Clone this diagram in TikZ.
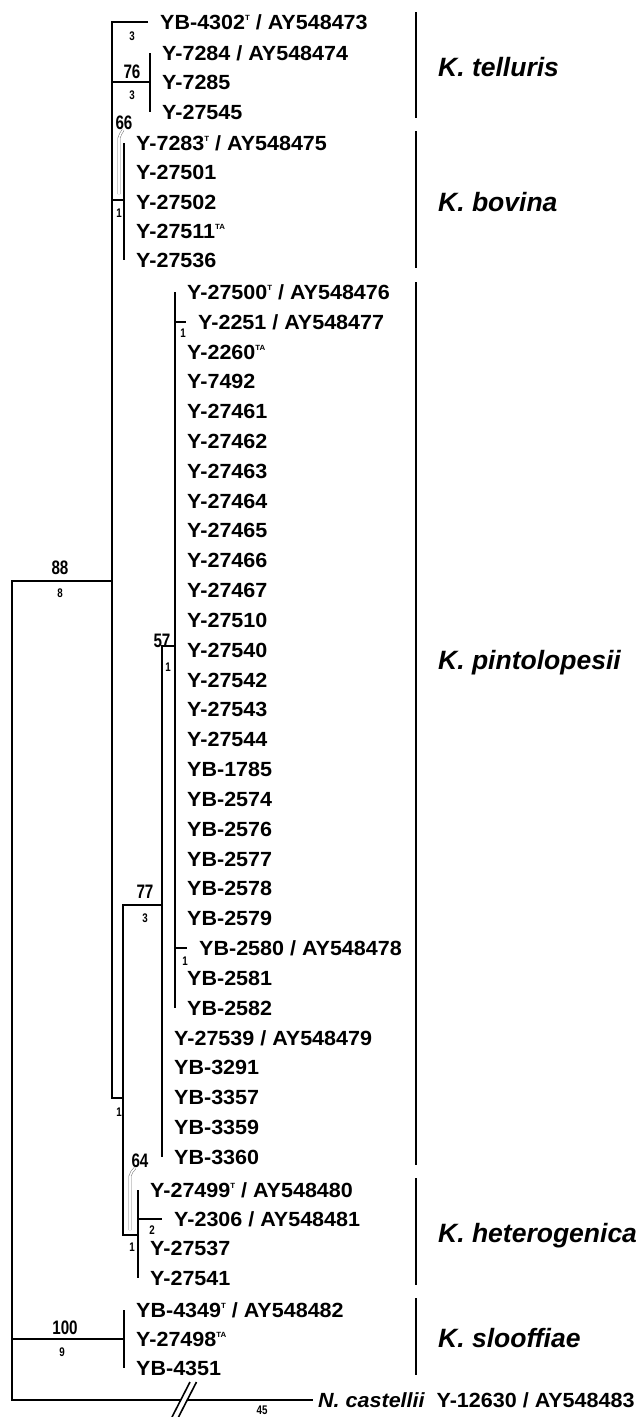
\documentclass[tikz,border=0pt]{standalone}
\usepackage{fontspec}
\setmainfont{Liberation Sans}
\newfontfamily\leaffont[FakeStretch=1.05]{Liberation Sans}
\newfontfamily\bsfont[FakeStretch=0.78]{Liberation Sans}
\newcommand{\tsup}[1]{\raisebox{9pt}{\fontsize{7.5}{7.5}\selectfont #1}}

\begin{document}
\begin{tikzpicture}[x=1pt, y=-1pt,
    branch/.style={line width=2.3pt},
    bar/.style={line width=2.5pt},
    leaf/.style={anchor=west, inner xsep=12pt, inner ysep=0pt, text height=14.7pt, text depth=0pt,
      font=\leaffont\fontsize{20.5}{24}\selectfont\bfseries},
    clade/.style={anchor=west, inner sep=0pt, text height=18.6pt, text depth=0pt,
      font=\fontsize{26.5}{30}\selectfont\bfseries\itshape},
    bsbig/.style={inner sep=0pt, font=\bsfont\fontsize{19.5}{21}\selectfont\bfseries},
    bssmall/.style={inner sep=0pt, font=\bsfont\fontsize{12.5}{14}\selectfont\bfseries},
    leader/.style={draw=black!55, line width=0.5pt, double=white, double distance=1.6pt}]
  \useasboundingbox (0,0) rectangle (639,1417);

  % inner nodes
  \coordinate (nR) at (12,581);
  \coordinate (nA) at (112,581);
  \coordinate (nTel) at (150,82);
  \coordinate (nBov) at (124,200);
  \coordinate (nB) at (123,1098);
  \coordinate (nC) at (162,905);
  \coordinate (nPin) at (175,646);
  \coordinate (nHet) at (138,1235);
  \coordinate (nSlo) at (124,1339);
  \coordinate (brk) at (184.5,1400);

  % K. telluris
  \node[leaf] (lT1) at (148,22) {YB-4302\tsup{T} / AY548473};
  \node[leaf] (lT2) at (150,53) {Y-7284 / AY548474};
  \node[leaf] (lT3) at (150,82) {Y-7285};
  \node[leaf] (lT4) at (150,112) {Y-27545};

  % K. bovina
  \node[leaf] (lB1) at (124,143) {Y-7283\tsup{T} / AY548475};
  \node[leaf] (lB2) at (124,172) {Y-27501};
  \node[leaf] (lB3) at (124,202) {Y-27502};
  \node[leaf] (lB4) at (124,231) {Y-27511\tsup{TA}};
  \node[leaf] (lB5) at (124,260) {Y-27536};

  % K. pintolopesii
  \node[leaf] (lP0) at (175,292) {Y-27500\tsup{T} / AY548476};
  \node[leaf] (lP1) at (186,321.8) {Y-2251 / AY548477};
  \foreach \i/\txt in {2/Y-2260\tsup{TA}, 3/Y-7492, 4/Y-27461, 5/Y-27462, 6/Y-27463,
      7/Y-27464, 8/Y-27465, 9/Y-27466, 10/Y-27467, 11/Y-27510, 12/Y-27540,
      13/Y-27542, 14/Y-27543, 15/Y-27544, 16/YB-1785, 17/YB-2574, 18/YB-2576,
      19/YB-2577, 20/YB-2578, 21/YB-2579, 23/YB-2581, 24/YB-2582}
    \node[leaf] (lP\i) at (175,{292+29.83*\i}) {\txt};
  \node[leaf] (lP22) at (187,948.3) {YB-2580 / AY548478};
  \node[leaf] (lP25) at (162,1037.8) {Y-27539 / AY548479};
  \foreach \i/\txt in {26/YB-3291, 27/YB-3357, 28/YB-3359, 29/YB-3360}
    \node[leaf] (lP\i) at (162,{292+29.83*\i}) {\txt};

  % K. heterogenica
  \node[leaf] (lH1) at (138,1190) {Y-27499\tsup{T} / AY548480};
  \node[leaf] (lH2) at (162,1219) {Y-2306 / AY548481};
  \node[leaf] (lH3) at (138,1248) {Y-27537};
  \node[leaf] (lH4) at (138,1278) {Y-27541};

  % K. slooffiae and outgroup
  \node[leaf] (lS1) at (124,1310) {YB-4349\tsup{T} / AY548482};
  \node[leaf] (lS2) at (124,1339) {Y-27498\tsup{TA}};
  \node[leaf] (lS3) at (124,1368) {YB-4351};
  \node[leaf, inner xsep=5pt] (lNca) at (313,1400) {\itshape N. castellii\upshape\ \ Y-12630 / AY548483};

  % branches
  \draw[branch] (nA) -- (nR) |- (lNca.west);
  \draw[branch] (nR |- nSlo) -- (nSlo);
  \draw[branch] (nSlo |- lS1.west) -- (nSlo |- lS3.west);
  \draw[branch] (lT1.west) -| (nA |- nB) -- (nB);
  \draw[branch] (nA |- nTel) -- (nTel);
  \draw[branch] (nTel |- lT2.west) -- (nTel |- lT4.west);
  \draw[branch] (nA |- nBov) -- (nBov);
  \draw[branch] (nBov |- lB1.west) -- (nBov |- lB5.west);
  \draw[branch] (nC) -| (nB |- nHet) -- (nHet);
  \draw[branch] (nPin) -| (nC |- lP29.west);
  \draw[branch] (nPin |- lP0.west) -- (nPin |- lP24.west);
  \draw[branch] (nPin |- lP1) -- (lP1.west);
  \draw[branch] (nPin |- lP22) -- (lP22.west);
  \draw[branch] (nHet |- lH1.west) -- (nHet |- lH4.west);
  \draw[branch] (nHet |- lH2) -- (lH2.west);

  % break on the outgroup branch
  \fill[white] (brk) ++(-3.2,-2.5) rectangle ++(6.4,5);
  \draw[line width=1.6pt] (brk) ++(-12.5,17) -- ++(18,-35);
  \draw[line width=1.6pt] (brk) ++(-6,17) -- ++(18,-35);

  % support values
  \node[bssmall] (s3a) at (132,36) {3};
  \node[bsbig] (s76) at (132,72) {76};
  \node[bssmall] (s3b) at (132,95) {3};
  \node[bsbig] (s66) at (124,123) {66};
  \draw[leader] (s66.south) ++(-1,0) to[out=-110,in=90] ++(-4,8) -- ++(0,56);
  \node[bssmall] (s1bov) at (119,213) {1};
  \node[bsbig] (s88) at (60,568) {88};
  \node[bssmall] (s8) at (60,593) {8};
  \node[bsbig] (s57) at (162,641) {57};
  \node[bssmall] (s1pin) at (168,667) {1};
  \node[bssmall] (s1p1) at (183,333) {1};
  \node[bsbig] (s77) at (145,892) {77};
  \node[bssmall] (s3c) at (145,918) {3};
  \node[bssmall] (s1p22) at (185,961) {1};
  \node[bssmall] (s1B) at (119,1112) {1};
  \node[bsbig] (s64) at (140,1161) {64};
  \draw[leader] (s64.south) ++(-5,0) to[out=-120,in=90] ++(-5,8) -- ++(0,54);
  \node[bssmall] (s2) at (152,1230) {2};
  \node[bssmall] (s1het) at (132,1247) {1};
  \node[bsbig] (s100) at (65,1328) {100};
  \node[bssmall] (s9) at (62,1352) {9};
  \node[bssmall] (s45) at (262,1410) {45};

  % species
  \draw[bar] (416,12) -- (416,118);
  \draw[bar] (416,131) -- (416,268);
  \draw[bar] (416,282) -- (416,1165);
  \draw[bar] (416,1178) -- (416,1285);
  \draw[bar] (416,1298) -- (416,1375);
  \node[clade] (kTel) at (438,67) {K. telluris};
  \node[clade] (kBov) at (438,202) {K. bovina};
  \node[clade] (kPin) at (438,660) {K. pintolopesii};
  \node[clade] (kHet) at (438,1233) {K. heterogenica};
  \node[clade] (kSlo) at (438,1338) {K. slooffiae};
\end{tikzpicture}
\end{document}
